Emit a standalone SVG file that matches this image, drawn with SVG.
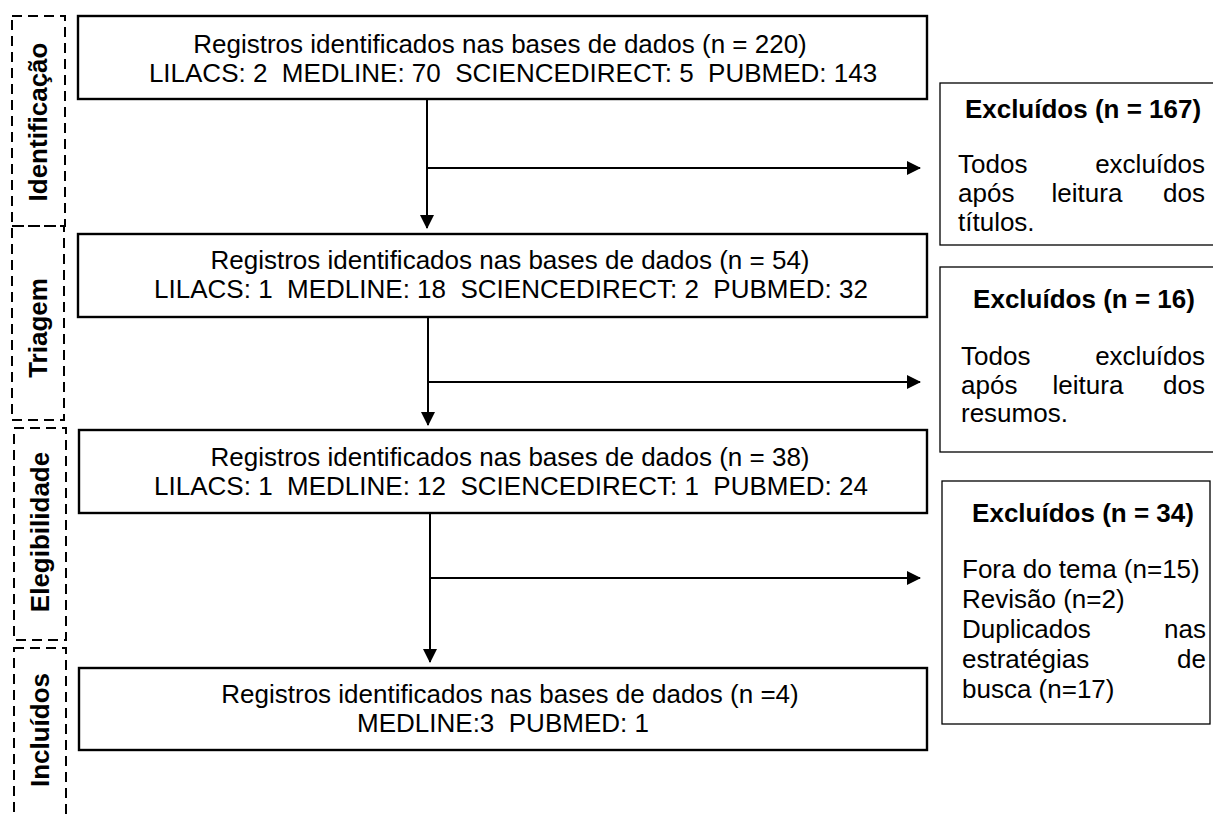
<svg xmlns="http://www.w3.org/2000/svg" width="1213" height="816" viewBox="0 0 1213 816">
<style>
.main{fill:#fff;stroke:#000;stroke-width:2.4}
.exc{fill:#fff;stroke:#000;stroke-width:1.3}
.stage{fill:none;stroke:#000;stroke-width:2;stroke-dasharray:10,6}
text{font-family:"Liberation Sans",Arial,sans-serif;font-size:26px;fill:#000}
.c{text-anchor:middle}
.b{font-weight:bold}
.e{text-anchor:end}
.con{stroke:#000;stroke-width:2;fill:none}
</style>
<defs>
<marker id="ah" markerWidth="14" markerHeight="14" refX="13" refY="7" orient="auto" markerUnits="userSpaceOnUse" viewBox="0 0 14 14"><path d="M0,0 L14,7 L0,14 z" fill="#000"/></marker>
</defs>

<g id="stage-identificacao">
<rect class="stage" x="12" y="16" width="53" height="210"/>
<text class="b c" transform="translate(47,122) rotate(-90)">Identificação</text>
</g>
<g id="stage-triagem">
<rect class="stage" x="12" y="226" width="52" height="194"/>
<text class="b c" transform="translate(47,328) rotate(-90)">Triagem</text>
</g>
<g id="stage-elegibilidade">
<rect class="stage" x="14" y="428" width="52" height="212"/>
<text class="b c" transform="translate(49,532) rotate(-90)">Elegibilidade</text>
</g>
<g id="stage-incluidos">
<rect class="stage" x="14" y="648" width="52" height="190"/>
<text class="b c" transform="translate(49,730) rotate(-90)">Incluídos</text>
</g>

<g id="box1">
<rect class="main" x="78" y="16" width="849" height="83"/>
<text class="c" x="500" y="53">Registros identificados nas bases de dados (n = 220)</text>
<text class="c" x="513" y="82" xml:space="preserve">LILACS: 2  MEDLINE: 70  SCIENCEDIRECT: 5  PUBMED: 143</text>
</g>
<g id="box2">
<rect class="main" x="78" y="234" width="849" height="83"/>
<text class="c" x="510" y="269">Registros identificados nas bases de dados (n = 54)</text>
<text class="c" x="511" y="298" xml:space="preserve">LILACS: 1  MEDLINE: 18  SCIENCEDIRECT: 2  PUBMED: 32</text>
</g>
<g id="box3">
<rect class="main" x="79" y="430" width="848" height="83"/>
<text class="c" x="510" y="466">Registros identificados nas bases de dados (n = 38)</text>
<text class="c" x="511" y="495" xml:space="preserve">LILACS: 1  MEDLINE: 12  SCIENCEDIRECT: 1  PUBMED: 24</text>
</g>
<g id="box4">
<rect class="main" x="79" y="668" width="848" height="82"/>
<text class="c" x="510" y="703">Registros identificados nas bases de dados (n =4)</text>
<text class="c" x="503" y="732" xml:space="preserve">MEDLINE:3  PUBMED: 1</text>
</g>

<g id="excl1">
<rect class="exc" x="940" y="83" width="280" height="162"/>
<text class="b c" x="1083" y="118">Excluídos (n = 167)</text>
<text x="958" y="173">Todos</text><text class="e" x="1205" y="173">excluídos</text>
<text x="958" y="202">após</text><text class="c" x="1087" y="202">leitura</text><text class="e" x="1205" y="202">dos</text>
<text x="958" y="231">títulos.</text>
</g>
<g id="excl2">
<rect class="exc" x="940" y="267" width="280" height="185"/>
<text class="b c" x="1084" y="308">Excluídos (n = 16)</text>
<text x="961" y="365">Todos</text><text class="e" x="1205" y="365">excluídos</text>
<text x="961" y="394">após</text><text class="c" x="1088" y="394">leitura</text><text class="e" x="1205" y="394">dos</text>
<text x="961" y="422">resumos.</text>
</g>
<g id="excl3">
<rect class="exc" x="942" y="481" width="268" height="243"/>
<text class="b c" x="1083" y="522">Excluídos (n = 34)</text>
<text x="962" y="578">Fora do tema (n=15)</text>
<text x="962" y="608">Revisão (n=2)</text>
<text x="962" y="638">Duplicados</text><text class="e" x="1206" y="638">nas</text>
<text x="962" y="668">estratégias</text><text class="e" x="1206" y="668">de</text>
<text x="962" y="698">busca (n=17)</text>
</g>

<g id="connectors">
<path class="con" d="M427,99 V228" marker-end="url(#ah)"/>
<path class="con" d="M428,168 H920" marker-end="url(#ah)"/>
<path class="con" d="M428,317 V425" marker-end="url(#ah)"/>
<path class="con" d="M429,382 H920" marker-end="url(#ah)"/>
<path class="con" d="M430,513 V662" marker-end="url(#ah)"/>
<path class="con" d="M431,578 H920" marker-end="url(#ah)"/>
</g>
</svg>
